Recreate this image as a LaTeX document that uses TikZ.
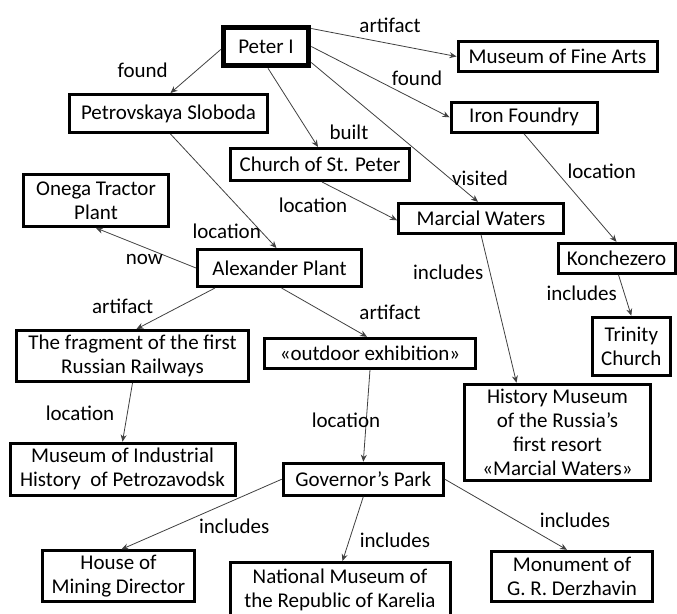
\documentclass[tikz,border=0pt]{standalone}
\usepackage{fontspec}
\setmainfont{Carlito}
\usetikzlibrary{arrows.meta}
\begin{document}
\begin{tikzpicture}[x=1pt,y=-1pt,
  box/.style={draw=black, line width=3pt, fill=white, inner sep=0pt, align=center,
    font=\fontsize{21}{24}\selectfont},
  rootbox/.style={box, line width=5.5pt},
  rel/.style={inner sep=0pt, font=\fontsize{21}{24}\selectfont},
  link/.style={draw=black!75, line width=0.8pt, -{Stealth[length=7pt,width=6pt]}}]
\useasboundingbox (0,0) rectangle (677,613);

% concept nodes
\node[rootbox, minimum width=85pt, minimum height=38pt] (peter) at (266,46.5) {Peter I};
\node[box, minimum width=199pt, minimum height=30pt] (mfa) at (557.5,56.5) {Museum of Fine Arts};
\node[box, minimum width=146pt, minimum height=30pt] (iron) at (524,117.3) {Iron Foundry};
\node[box, minimum width=198pt, minimum height=38pt] (petro) at (168.5,113.5) {Petrovskaya Sloboda};
\node[box, minimum width=179pt, minimum height=32pt] (church) at (320,164.5) {Church of St. Peter};
\node[box, minimum width=145pt, minimum height=52pt] (onega) at (96,200.5) {Onega Tractor\\Plant};
\node[box, minimum width=164pt, minimum height=37pt] (alex) at (279.5,268) {Alexander Plant};
\node[box, minimum width=165pt, minimum height=30pt] (marcial) at (481,218.3) {Marcial Waters};
\node[box, minimum width=117pt, minimum height=30pt] (konch) at (616.5,258.3) {Konchezero};
\node[box, minimum width=78pt, minimum height=58pt] (trinity) at (631.3,346.2) {Trinity\\Church};
\node[box, minimum width=232pt, minimum height=51pt] (frag) at (132.5,356) {The fragment of the first\\Russian Railways};
\node[box, minimum width=211pt, minimum height=30pt] (outdoor) at (370,353.3) {«outdoor exhibition»};
\node[box, minimum width=186pt, minimum height=96pt] (history) at (557.5,432.2) {History Museum\\of the Russia’s\\first resort\\«Marcial Waters»};
\node[box, minimum width=225pt, minimum height=52pt] (museum) at (122.5,469.2) {Museum of Industrial\\History\ \ of Petrozavodsk};
\node[box, minimum width=160pt, minimum height=32pt] (gov) at (363.3,479.2) {Governor’s Park};
\node[box, minimum width=152pt, minimum height=51pt] (house) at (118.5,576.3) {House of\\Mining Director};
\node[box, minimum width=220pt, minimum height=54pt] (national) at (340,589.5) {National Museum of\\the Republic of Karelia};
\node[box, minimum width=161pt, minimum height=50pt] (monument) at (572,576.3) {Monument of\\G. R. Derzhavin};

% relations
\draw[link] ([yshift=18pt]peter.east) -- (mfa.west);
\draw[link] (peter.east) -- (iron.west);
\draw[link] ([yshift=-16pt]peter.east) -- ([xshift=-3pt]marcial.north);
\draw[link] ([xshift=2pt]peter.south) -- ([xshift=-2pt]church.north);
\draw[link] ([yshift=-3pt]peter.west) -- ([xshift=2pt]petro.north);
\draw[link] ([xshift=2pt]petro.south) -- ([xshift=-3pt]alex.north);
\draw[link] ([xshift=2pt]church.south) -- ([yshift=-2pt]marcial.west);
\draw[link] (iron.south) -- (konch.north);
\draw[link] ([xshift=2pt]konch.south) -- (trinity.north);
\draw[link] (marcial.south) -- ([xshift=-41pt]history.north);
\draw[link] (alex.west) -- (onega.south);
\draw[link] ([xshift=19pt]alex.south west) -- ([xshift=4pt]frag.north);
\draw[link] ([xshift=2pt]alex.south) -- ([xshift=-3pt]outdoor.north);
\draw[link] (frag.south) -- (museum.north);
\draw[link] (outdoor.south) -- (gov.north);
\draw[link] (gov.west) -- ([xshift=3pt]house.north);
\draw[link] (gov.south) -- ([xshift=2.5pt]national.north);
\draw[link] (gov.east) -- ([xshift=-5pt]monument.north);

% relation labels
\node[rel] (r1) at (390,25) {artifact};
\node[rel] (r2) at (417,78) {found};
\node[rel] (r3) at (142.7,70.7) {found};
\node[rel] (r4) at (349,132) {built};
\node[rel] (r5) at (480,178) {visited};
\node[rel] (r6) at (601.7,171.7) {location};
\node[rel] (r7) at (313,205) {location};
\node[rel] (r8) at (226.7,231.7) {location};
\node[rel] (r9) at (144.3,259.3) {now};
\node[rel] (r10) at (122.7,306) {artifact};
\node[rel] (r11) at (390,312.7) {artifact};
\node[rel] (r12) at (448.3,272.7) {includes};
\node[rel] (r13) at (581.7,293.3) {includes};
\node[rel] (r14) at (80,413.3) {location};
\node[rel] (r15) at (346,420) {location};
\node[rel] (r16) at (234.3,526.7) {includes};
\node[rel] (r17) at (395,540) {includes};
\node[rel] (r18) at (575,520) {includes};
\end{tikzpicture}
\end{document}
